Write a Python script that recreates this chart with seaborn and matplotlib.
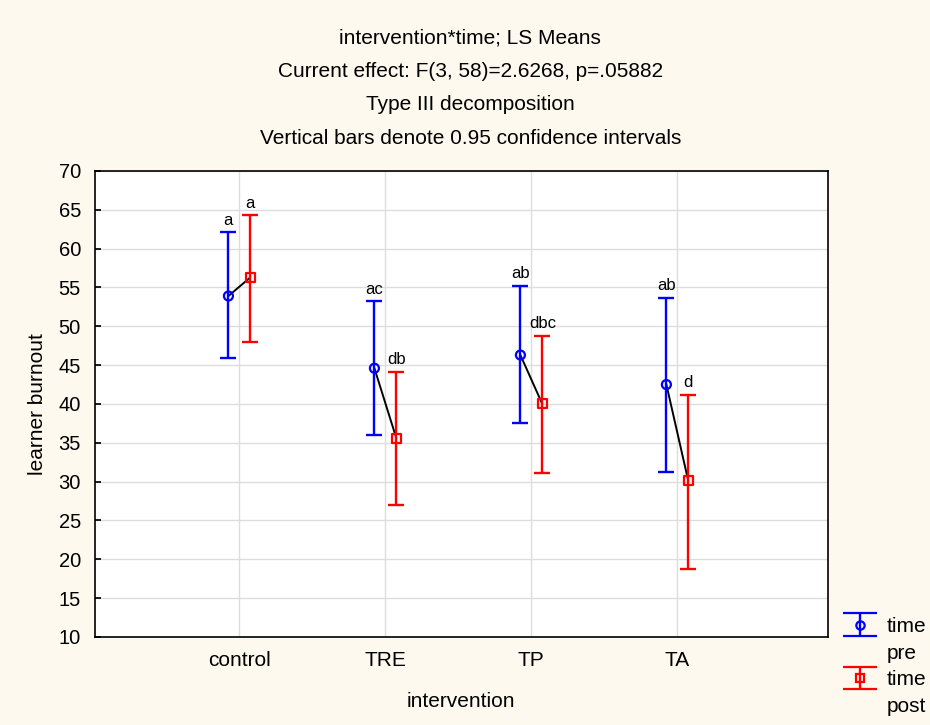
import numpy as np
import pandas as pd
import matplotlib
matplotlib.use("Agg")
import matplotlib.pyplot as plt
import seaborn as sns
from matplotlib.lines import Line2D
from matplotlib.legend_handler import HandlerErrorbar
from matplotlib.container import ErrorbarContainer

categories = ["control", "TRE", "TP", "TA"]
pre_mean = [53.9, 44.6, 46.3, 42.5]
pre_low = [45.9, 36.0, 37.6, 31.3]
pre_high = [62.1, 53.2, 55.2, 53.7]
post_mean = [56.3, 35.6, 40.0, 30.1]
post_low = [48.0, 27.0, 31.1, 18.8]
post_high = [64.3, 44.1, 48.8, 41.2]
pre_letters = ["a", "ac", "ab", "ab"]
post_letters = ["a", "db", "dbc", "d"]
times = ["pre", "post"]

rows = []
for i, c in enumerate(categories):
    rows.append(dict(intervention=c, time="pre", mean=pre_mean[i], low=pre_low[i],
                     high=pre_high[i], letter=pre_letters[i], pos=i - 0.075))
    rows.append(dict(intervention=c, time="post", mean=post_mean[i], low=post_low[i],
                     high=post_high[i], letter=post_letters[i], pos=i + 0.075))
df = pd.DataFrame(rows)

sns.set_theme(style="whitegrid")
plt.rcParams["font.family"] = ["Liberation Sans", "DejaVu Sans"]
plt.rcParams["text.color"] = "black"
plt.rcParams["axes.labelcolor"] = "black"
plt.rcParams["xtick.color"] = "black"
plt.rcParams["ytick.color"] = "black"

fig = plt.figure(figsize=(9.3, 7.25), dpi=100, facecolor="#FDF9EF")
ax = fig.add_axes([0.102, 0.1214, 0.788, 0.6428])
ax.set_facecolor("white")

colors = {"pre": "#0000FF", "post": "#FF0000"}
markers = {"pre": "o", "post": "s"}

# connecting black lines
for c in categories:
    sub = df[df.intervention == c]
    sns.lineplot(data=sub, x="pos", y="mean", color="black", lw=1.4, ax=ax,
                 legend=False, sort=True, estimator=None)

for t in times:
    sub = df[df.time == t]
    ax.errorbar(sub["pos"], sub["mean"],
                yerr=[sub["mean"] - sub["low"], sub["high"] - sub["mean"]],
                fmt="none", ecolor=colors[t], elinewidth=1.7, capsize=5.5, capthick=1.7,
                zorder=3)
    sns.scatterplot(data=sub, x="pos", y="mean", marker=markers[t], s=42,
                    facecolor="none", edgecolor=colors[t], linewidth=1.6, ax=ax,
                    zorder=4, legend=False)
    for _, r in sub.iterrows():
        ax.text(r["pos"], r["high"] + 0.6, r["letter"], ha="center", va="bottom",
                fontsize=12, color="black")

ax.set_xlim(-0.99, 4.03)
ax.set_ylim(10, 70)
ax.set_xticks(range(len(categories)))
ax.set_xticklabels(categories)
ax.set_yticks(np.arange(10, 71, 5))
ax.grid(True, color="#DDDDDD", lw=1)
for s in ax.spines.values():
    s.set_color("black")
    s.set_linewidth(1.2)
ax.tick_params(axis="y", direction="in", length=4, left=True, labelsize=14.5, pad=10)
ax.tick_params(axis="x", length=0, labelsize=15, pad=10)
ax.set_xlabel("intervention", fontsize=15, labelpad=16)
ax.set_ylabel("learner burnout", fontsize=15, labelpad=8)

title_lines = ["intervention*time; LS Means",
               "Current effect: F(3, 58)=2.6268, p=.05882",
               "Type III decomposition",
               "Vertical bars denote 0.95 confidence intervals"]
for k, line in enumerate(title_lines):
    fig.text(0.5056, 1 - (38 + 33.5 * k) / 725, line, ha="center", va="center", fontsize=15)

def make_eb(t):
    return ax.errorbar([np.nan], [np.nan], yerr=[1], fmt=markers[t], color=colors[t],
                       mfc="none", ms=6, mew=1.6, capsize=12, elinewidth=1.7, capthick=1.7)
eb_handles = [make_eb(t) for t in times]
blank = Line2D([], [], linestyle="none")
leg = fig.legend([eb_handles[0], blank, eb_handles[1], blank],
                 ["time", "pre", "time", "post"], loc="lower left",
                 bbox_to_anchor=(843 / 930, 9 / 725), frameon=False, fontsize=15,
                 borderpad=0, borderaxespad=0,
                 handlelength=1.65, labelspacing=0.37, handletextpad=0.45,
                 handler_map={ErrorbarContainer: HandlerErrorbar(xerr_size=0.5, yerr_size=0.55)})

fig.savefig("out.png", dpi=100, facecolor=fig.get_facecolor())
